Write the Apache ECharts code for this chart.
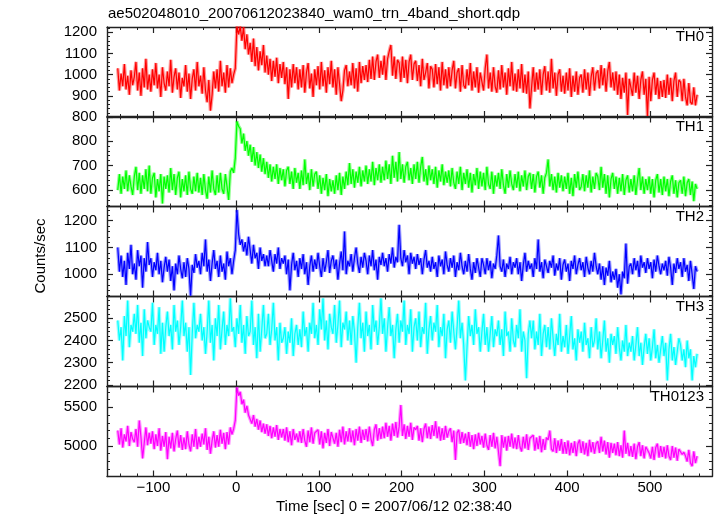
<!DOCTYPE html>
<html><head><meta charset="utf-8">
<script src="https://cdn.jsdelivr.net/npm/echarts@6/dist/echarts.min.js"></script>
<style>html,body{margin:0;padding:0;background:#fff}#c{width:717px;height:516px}</style>
</head><body><div id="c"></div><script>
// time bins: first bin centre and bin width (sec)
const T_START = -143, T_STEP = 2;

const th0 = [
1030,925,1005,945,1050,930,995,905,1020,950,
990,1060,925,1010,900,1030,940,1075,930,1000,
920,1025,950,1055,935,1000,895,1035,960,925,
1015,945,1070,915,990,1030,930,1010,890,985,
945,1045,920,1005,885,980,1025,925,1060,945,
995,910,1035,925,870,975,830,905,1015,935,
1025,920,1065,945,1010,915,1045,940,1030,960,
1000,1030,1228,1190,1228,1160,1225,1120,1190,1095,
1150,1060,1170,1040,1130,1020,1110,1045,1140,1010,
1090,1000,1075,970,1065,990,1080,960,1050,985,
1060,955,1035,885,1025,940,1050,960,1035,930,
1025,940,1045,915,1010,1055,935,1005,895,1025,
950,1040,930,1060,945,1020,915,1035,955,1065,
940,1025,905,1035,955,875,925,1020,1045,945,
1015,950,1055,935,1030,920,1060,960,1040,975,
1045,965,1070,980,1085,975,1060,1095,985,1065,
1000,1090,975,1075,1110,1140,995,1085,980,1070,
1055,965,1085,985,1070,960,1060,1095,975,1050,
1065,970,1045,945,1075,975,1010,1055,935,1040,
1025,940,1050,955,1035,925,1060,950,1025,935,
1035,945,1020,1065,935,1010,1030,920,1045,950,
935,1025,950,1055,925,1015,940,1035,915,1010,
1015,925,1030,1095,935,1010,920,1035,945,915,
1020,930,1045,940,1010,905,1030,945,1060,925,
1005,920,1025,935,1050,915,1000,910,1015,840,
940,1035,920,1010,930,1025,905,1000,1040,925,
1015,915,1075,935,1010,900,1000,1025,920,995,
910,1010,925,1030,895,995,920,1015,905,985,
1000,915,1025,930,1010,900,990,1035,925,1005,
1020,935,1045,950,1030,920,1015,1060,940,1010,
925,1015,905,1000,885,985,915,1010,810,980,
985,900,1010,915,995,885,975,1015,905,980,
805,990,875,975,1010,905,985,885,970,895,
975,890,1000,905,985,875,970,1010,895,975,
965,875,980,895,855,960,870,860,940,855,
905];

const th1 = [
600,665,585,655,605,680,595,660,615,580,
655,695,600,670,585,660,605,685,595,700,
585,650,670,570,645,595,665,545,655,605,
660,590,690,600,665,580,650,675,570,645,
595,660,580,675,605,585,655,595,670,590,
650,580,665,600,565,655,590,680,605,580,
660,590,670,605,585,665,615,560,675,690,
670,730,880,860,850,790,830,760,800,740,
785,715,775,700,755,690,745,675,730,665,
715,650,705,635,695,645,705,625,690,640,
685,615,680,695,625,675,605,690,630,670,
605,680,620,725,625,670,600,685,615,665,
675,605,660,585,650,600,665,575,645,595,
640,585,660,600,670,580,655,605,675,620,
710,625,685,610,675,630,695,615,680,635,
700,625,685,635,715,620,690,640,705,630,
695,640,720,645,705,625,740,650,715,635,
755,645,705,630,695,715,640,690,625,705,
645,715,630,695,735,635,685,620,700,640,
685,625,695,610,680,635,705,620,675,630,
680,615,690,630,605,675,625,695,600,670,
625,685,610,670,590,665,620,690,605,675,
615,670,600,695,625,605,675,585,660,615,
670,605,685,620,585,665,610,680,625,600,
665,610,675,595,660,615,680,600,655,670,
605,665,590,655,675,610,660,585,650,670,
725,615,665,600,655,590,670,610,660,595,
655,605,670,585,650,575,665,610,675,600,
615,665,595,660,610,680,590,655,605,670,
655,600,695,610,665,585,660,570,645,670,
605,655,585,650,595,665,580,640,660,590,
645,595,660,580,640,690,600,655,585,645,
600,655,585,645,570,640,665,590,645,580,
655,595,645,575,635,660,585,640,570,630,
640,585,655,575,630,645,580,635,555,625,
605];

const th2 = [
1100,1010,1070,990,1050,960,1080,1020,1110,1000,
1040,980,1090,1030,1070,950,1060,1010,1120,1035,
1060,990,1045,1015,1080,1000,1050,970,1025,1065,
1010,1055,975,1030,940,1040,1000,1070,1020,985,
1045,990,1060,1020,920,1035,1005,1075,1025,1050,
1000,1080,1030,1130,1010,1055,975,1040,1090,1020,
1050,990,1070,1010,1040,980,1085,1030,1060,1000,
1050,1090,1240,1150,1110,1130,1085,1120,1070,1140,
1090,1040,1110,1060,1080,1020,1100,1050,1075,1030,
1070,1030,1090,1050,1010,1075,1040,1100,1020,1060,
1040,1070,1000,1055,940,1035,1080,1015,1050,990,
1060,1020,1075,1000,1045,960,1030,1070,1010,1055,
1020,1080,1030,990,1060,1010,1045,1090,1005,1050,
1070,1020,1055,980,1040,1085,1015,1160,1000,1050,
1030,1075,1010,1060,1100,1040,1005,1065,1025,1080,
1050,1000,1070,1030,1090,1015,1055,980,1065,1035,
1080,1030,1060,1010,1075,1040,1100,1025,1065,1045,
1185,1060,1030,1090,1045,1070,1000,1080,1040,1065,
1020,1075,1035,1060,1000,1055,1090,1025,1050,1010,
1065,1020,1045,990,1070,1030,1055,1000,1085,1035,
1010,1060,1025,1070,990,1045,1015,1080,1030,1000,
1050,1010,1075,1020,980,1045,1005,1060,1025,990,
1060,1035,1000,1060,1015,1050,985,1040,1020,1070,
1145,1030,1010,1055,990,1040,1020,1065,1000,1045,
1025,1060,1000,1045,975,1035,1080,1010,1050,1020,
1040,990,1060,1020,1130,1010,1045,985,1055,1030,
1005,1050,1025,1070,995,1040,1015,1060,980,1035,
1055,1010,1040,975,1050,1020,1070,1000,1035,1060,
1015,1045,990,1065,1025,1000,1050,1010,1080,1030,
1000,1040,980,1030,960,1025,995,1050,970,1010,
980,1020,950,1000,925,1010,985,1115,965,1030,
1040,1000,1060,1015,1050,990,1070,1025,1045,1005,
1060,1020,1045,985,1055,1010,1070,1030,1000,1040,
1015,1050,995,1065,1025,960,1040,1005,1060,1020,
1045,990,1060,1010,1035,975,1050,1000,945,1030,
1010];

const th3 = [
2490,2400,2460,2310,2510,2420,2580,2370,2470,2440,
2520,2430,2560,2390,2480,2330,2540,2410,2490,2460,
2440,2570,2380,2470,2430,2550,2340,2480,2350,2460,
2530,2420,2470,2360,2560,2440,2490,2380,2460,2580,
2420,2480,2350,2460,2245,2430,2570,2410,2470,2440,
2520,2400,2460,2340,2440,2580,2390,2470,2310,2500,
2420,2560,2360,2450,2530,2380,2470,2420,2590,2440,
2460,2370,2500,2430,2560,2390,2470,2340,2510,2420,
2440,2580,2380,2460,2320,2520,2350,2450,2560,2410,
2430,2520,2380,2450,2570,2400,2460,2310,2480,2390,
2410,2460,2340,2440,2390,2500,2330,2430,2470,2380,
2450,2370,2530,2420,2460,2350,2480,2430,2570,2410,
2470,2380,2540,2450,2590,2400,2490,2360,2520,2460,
2430,2560,2390,2470,2580,2370,2480,2450,2530,2400,
2490,2380,2510,2440,2300,2460,2570,2410,2480,2350,
2530,2420,2470,2360,2560,2440,2490,2380,2460,2590,
2430,2500,2350,2460,2550,2420,2470,2320,2450,2520,
2390,2490,2440,2580,2380,2470,2430,2540,2350,2460,
2500,2400,2530,2370,2460,2430,2570,2340,2450,2510,
2400,2480,2440,2560,2370,2460,2420,2520,2320,2450,
2490,2390,2530,2440,2360,2460,2580,2410,2480,2380,
2220,2370,2510,2420,2470,2380,2540,2430,2460,2350,
2440,2520,2380,2460,2350,2430,2510,2370,2450,2420,
2490,2380,2450,2330,2530,2420,2440,2350,2500,2400,
2370,2470,2410,2540,2350,2440,2400,2230,2430,2490,
2410,2490,2360,2440,2380,2520,2330,2430,2470,2370,
2460,2360,2500,2410,2330,2430,2380,2520,2350,2420,
2370,2470,2340,2420,2510,2360,2410,2310,2450,2390,
2440,2350,2480,2380,2410,2320,2460,2370,2400,2500,
2360,2440,2320,2400,2490,2350,2410,2300,2430,2380,
2420,2340,2460,2370,2310,2400,2350,2470,2330,2390,
2350,2420,2310,2380,2460,2330,2390,2290,2370,2430,
2340,2410,2310,2370,2450,2320,2380,2300,2360,2420,
2330,2390,2220,2360,2430,2310,2370,2290,2350,2410,
2380,2310,2360,2280,2400,2320,2360,2220,2330,2280,
2340];

const th0123 = [
5200,5020,5230,4980,5150,5060,5260,5000,5180,5090,
5050,5220,4990,5330,5120,4840,5040,5240,5010,5170,
5030,5190,4960,5150,5000,5230,4940,5130,4990,5180,
4830,5120,4970,5170,4930,5090,5200,4980,5140,4950,
5110,4960,5190,5020,4930,5150,4990,5220,4960,5120,
4990,5160,5020,5230,4950,5120,4900,5070,5190,4980,
5140,4990,5210,5030,5170,4960,5180,5020,5240,5150,
5220,5330,5760,5650,5700,5540,5600,5430,5520,5400,
5420,5290,5400,5250,5350,5210,5330,5180,5290,5160,
5280,5130,5260,5100,5240,5120,5270,5080,5220,5110,
5220,5070,5240,5050,5190,5010,5220,5080,5160,5050,
5190,5040,5220,5070,4990,5200,5050,5240,5030,5170,
5160,5210,5020,5190,4970,5170,5040,5220,5000,5180,
5200,5030,5170,4990,5210,5050,5250,5020,5190,5060,
5230,5050,5200,5010,5220,5070,5250,5040,5210,5080,
5220,5060,5250,5090,5000,5210,5280,5070,5230,5090,
5250,5100,5300,5120,5260,5070,5290,5130,5310,5110,
5250,5530,5130,5280,5090,5260,5120,5300,5080,5240,
5210,5260,5070,5230,5050,5220,5290,5100,5250,5090,
5270,5130,5320,5100,5250,5070,5230,5080,5260,5110,
5190,5230,5050,5200,4820,5170,5210,5030,5180,5040,
5160,5010,5180,4990,5140,4960,5150,5000,5170,5020,
5130,4980,5160,5010,4950,5140,4990,5170,4970,5120,
5100,4740,5140,4980,5120,4940,5130,4990,5160,4970,
5110,4960,5140,4990,4930,5120,4970,5150,4950,5100,
5090,5140,4940,5110,4960,5130,4920,5090,4950,5110,
5080,5200,4960,4930,5100,4910,5070,4940,5090,4900,
5050,4900,5070,4880,5040,4910,5060,4870,5030,5080,
4910,5060,4890,5040,4870,5080,4920,5050,4900,5030,
5060,4910,5120,4930,5070,4890,5050,4850,5040,4910,
5030,4880,5050,4870,5010,4850,5200,4900,5040,4870,
5000,4860,5030,4830,4990,5050,4870,5010,4840,4990,
4970,4910,4840,4990,4820,4980,5030,4850,5000,4860,
4990,4840,5010,4870,4820,5000,4850,4980,4810,4960,
4950,4890,4920,4870,4800,4950,4780,4740,4930,4780,
4870];

const panelNames = ['TH0', 'TH1', 'TH2', 'TH3', 'TH0123'];
const seriesData = [th0, th1, th2, th3, th0123];
const colors = ['#ff0000', '#00ff00', '#0000ff', '#00ffff', '#ff00ff'];
const yMin = [800, 533, 917, 2193, 4606];
const yMax = [1225, 900, 1253, 2598, 5769];
const yMajor = [[800, 900, 1000, 1100, 1200], [600, 700, 800], [1000, 1100, 1200], [2200, 2300, 2400, 2500], [5000, 5500]];
const yMinorStep = [20, 20, 20, 20, 100];
const xMajor = [-100, 0, 100, 200, 300, 400, 500];
const xMinorStep = 20;
const xMin = -156, xMax = 575;
const titleText = 'ae502048010_20070612023840_wam0_trn_4band_short.qdp';
const xTitle = 'Time [sec] 0 = 2007/06/12 02:38:40';
const yTitle = 'Counts/sec';

const FONT = 'Liberation Sans, Arial, Helvetica, sans-serif';
const gridTops = [27, 116.5, 206.5, 296.5, 386.5];
const gridH = 90;

function range(a, b, s) { const r = []; for (let v = a; v <= b + 1e-9; v += s) r.push(v); return r; }
const xMinor = range(-140, 560, xMinorStep);

const grids = [], xAxes = [], yAxes = [], series = [], graphics = [];
const lineStyle = { color: '#222', width: 1.4 };

for (let i = 0; i < 5; i++) {
  grids.push({ left: 107, right: 5, top: gridTops[i], height: gridH, containLabel: false });
  const yMinorVals = range(Math.ceil(yMin[i] / yMinorStep[i]) * yMinorStep[i], yMax[i], yMinorStep[i]);
  const isLast = i === 4;
  const xBase = { type: 'value', gridIndex: i, min: xMin, max: xMax, splitLine: { show: false } };
  xAxes.push(Object.assign({}, xBase, {
    position: 'bottom',
    axisLine: { show: true, onZero: false, lineStyle },
    axisTick: { show: true, inside: true, length: 6, customValues: xMajor, lineStyle: { color: '#222', width: 1.2 } },
    axisLabel: { show: isLast, customValues: xMajor, color: '#000', fontSize: 15, fontFamily: FONT, margin: 4,
      formatter: v => String(v).replace('-', '\u2212') }
  }));
  xAxes.push(Object.assign({}, xBase, {
    position: 'bottom',
    axisLine: { show: false, onZero: false },
    axisTick: { show: true, inside: true, length: 3, customValues: xMinor, lineStyle: { color: '#222', width: 1 } },
    axisLabel: { show: false }
  }));
  xAxes.push(Object.assign({}, xBase, {
    position: 'top',
    axisLine: { show: true, onZero: false, lineStyle },
    axisTick: { show: true, inside: true, length: 6, customValues: xMajor, lineStyle: { color: '#222', width: 1.2 } },
    axisLabel: { show: false }
  }));
  xAxes.push(Object.assign({}, xBase, {
    position: 'top',
    axisLine: { show: false, onZero: false },
    axisTick: { show: true, inside: true, length: 3, customValues: xMinor, lineStyle: { color: '#222', width: 1 } },
    axisLabel: { show: false }
  }));

  const yBase = { type: 'value', gridIndex: i, min: yMin[i], max: yMax[i], splitLine: { show: false } };
  yAxes.push(Object.assign({}, yBase, {
    position: 'left',
    axisLine: { show: true, onZero: false, lineStyle },
    axisTick: { show: true, inside: true, length: 6, customValues: yMajor[i], lineStyle: { color: '#222', width: 1.2 } },
    axisLabel: { show: true, customValues: yMajor[i], color: '#000', fontSize: 15, fontFamily: FONT, margin: 10,
      formatter: v => String(v) }
  }));
  yAxes.push(Object.assign({}, yBase, {
    position: 'left',
    axisLine: { show: false, onZero: false },
    axisTick: { show: true, inside: true, length: 3, customValues: yMinorVals, lineStyle: { color: '#222', width: 1 } },
    axisLabel: { show: false }
  }));
  yAxes.push(Object.assign({}, yBase, {
    position: 'right',
    axisLine: { show: true, onZero: false, lineStyle },
    axisTick: { show: true, inside: true, length: 6, customValues: yMajor[i], lineStyle: { color: '#222', width: 1.2 } },
    axisLabel: { show: false }
  }));
  yAxes.push(Object.assign({}, yBase, {
    position: 'right',
    axisLine: { show: false, onZero: false },
    axisTick: { show: true, inside: true, length: 3, customValues: yMinorVals, lineStyle: { color: '#222', width: 1 } },
    axisLabel: { show: false }
  }));

  const pts = seriesData[i].map((v, k) => [T_START + k * T_STEP, v]);
  series.push({
    type: 'line', xAxisIndex: 4 * i, yAxisIndex: 4 * i, data: pts, showSymbol: false, symbol: 'none',
    lineStyle: { color: colors[i], width: 3.5, opacity: 0.4 }, silent: true, z: 2, clip: true
  });
  series.push({
    type: 'line', xAxisIndex: 4 * i, yAxisIndex: 4 * i, data: pts, showSymbol: false, symbol: 'none',
    lineStyle: { color: colors[i], width: 1.2 }, silent: true, z: 3, clip: true
  });

  graphics.push({ type: 'text', z: 10, style: { text: panelNames[i], x: 704, y: gridTops[i] + 10,
    align: 'right', verticalAlign: 'middle', font: '15px ' + FONT, fill: '#000' } });
}

graphics.push({ type: 'text', style: { text: titleText, x: 108, y: 14, align: 'left', verticalAlign: 'middle', font: '15px ' + FONT, fill: '#000' } });
graphics.push({ type: 'text', style: { text: xTitle, x: 276, y: 507, align: 'left', verticalAlign: 'middle', font: '15px ' + FONT, fill: '#000' } });
graphics.push({ type: 'text', x: 41, y: 256, rotation: Math.PI / 2, style: { text: yTitle, x: 0, y: 0, align: 'center', verticalAlign: 'middle', font: '15px ' + FONT, fill: '#000' } });

const chart = echarts.init(document.getElementById('c'), null, { renderer: 'canvas' });
chart.setOption({
  animation: false,
  backgroundColor: '#fff',
  grid: grids, xAxis: xAxes, yAxis: yAxes, series: series, graphic: graphics
});
</script></body></html>
